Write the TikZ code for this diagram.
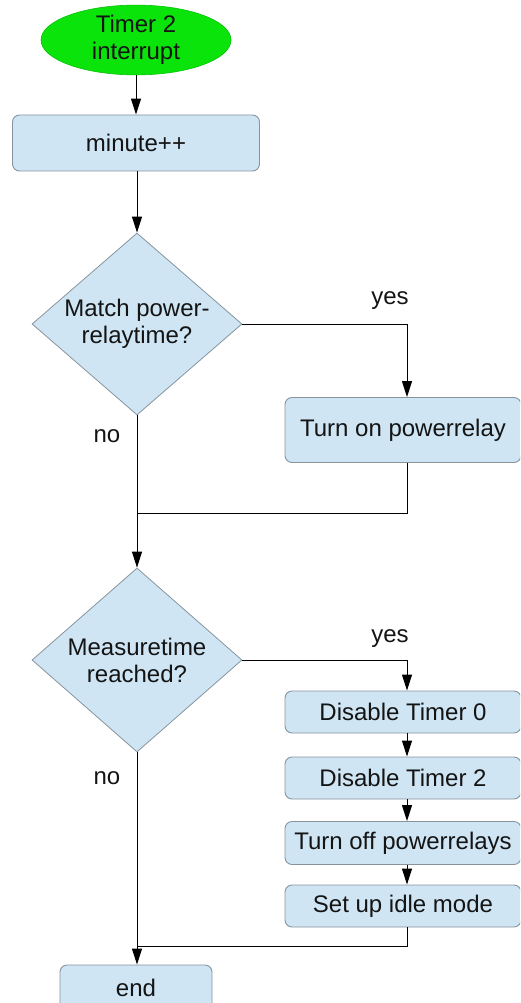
\documentclass[tikz,border=0pt]{standalone}
\usepackage{fontspec}
\setmainfont{Liberation Sans}
\usetikzlibrary{shapes.geometric,arrows.meta}
\definecolor{boxfill}{RGB}{207,229,243}
\definecolor{boxline}{RGB}{135,148,158}
\definecolor{startgreen}{RGB}{10,228,10}
\definecolor{ink}{RGB}{20,20,20}

\begin{document}
\begin{tikzpicture}[x=1pt,y=-1pt,
  every node/.style={font=\fontsize{24}{27}\selectfont, text=ink},
  proc/.style={draw=boxline, fill=boxfill, rounded corners=7pt, inner sep=0pt, line width=0.9pt, align=center},
  decide/.style={diamond, draw=boxline, fill=boxfill, inner sep=0pt, line width=0.8pt},
  startstop/.style={ellipse, draw=startgreen!85!black, fill=startgreen, inner sep=0pt, line width=0.6pt, align=center},
  flow/.style={draw=black, line width=1pt, -{Triangle[length=16pt,width=10pt]}},
  wire/.style={draw=black, line width=1pt},
  lbl/.style={inner sep=0pt}
]
% page frame
\path[use as bounding box] (0,0) rectangle (520,1003);
\clip (0,0) rectangle (520,1003);

% main column
\node[startstop, minimum width=190, minimum height=66] (start) at (136,40) {Timer 2\\interrupt};
\node[proc, minimum width=247, minimum height=56] (minute) at (136,143) {minute++};

\node[decide, minimum width=210, minimum height=182] (d1) at (137,324) {};
\node[lbl, align=center] (d1t) at (137,324) {Match power-\\relaytime?};

\node[decide, minimum width=210, minimum height=184] (d2) at (137,660) {};
\node[lbl, align=center] (d2t) at (137,660) {Measuretime\\reached?};

\node[proc, minimum width=152, minimum height=46] (end) at (136,988) {end};

% right branch boxes
\node[proc, minimum width=236, minimum height=65] (on) at (403,430) {Turn on powerrelay};
\node[proc, minimum width=236, minimum height=42] (dis0) at (403,712) {Disable Timer 0};
\node[proc, minimum width=236, minimum height=42] (dis2) at (403,778) {Disable Timer 2};
\node[proc, minimum width=236, minimum height=43] (off) at (403,843) {Turn off powerrelays};
\node[proc, minimum width=236, minimum height=42] (idle) at (403,906) {Set up idle mode};

% branch column and join points
\coordinate (rc) at (407,0);
\coordinate (j1) at (137,513);
\coordinate (j2) at (137,946);

% labels
\node[lbl] (yes1) at (390,301) {yes};
\node[lbl] (no1) at (107,436) {no};
\node[lbl] (yes2) at (390,639) {yes};
\node[lbl] (no2) at (107,778) {no};

% connectors
\draw[flow] (start.south) -- (minute.north);
\draw[flow] (minute.south -| d1.north) -- (d1.north);
\draw[flow] (d1.east) -| (on.north -| rc);
\draw[wire] (on.south -| rc) |- (j1);
\draw[flow] (d1.south) -- (d2.north);
\draw[flow] (d2.east) -| (dis0.north -| rc);
\draw[flow] (dis0.south -| rc) -- (dis2.north -| rc);
\draw[flow] (dis2.south -| rc) -- (off.north -| rc);
\draw[flow] (off.south -| rc) -- (idle.north -| rc);
\draw[wire] (idle.south -| rc) |- (j2);
\draw[flow] (d2.south) -- (end.north -| d2.south);
\end{tikzpicture}
\end{document}
